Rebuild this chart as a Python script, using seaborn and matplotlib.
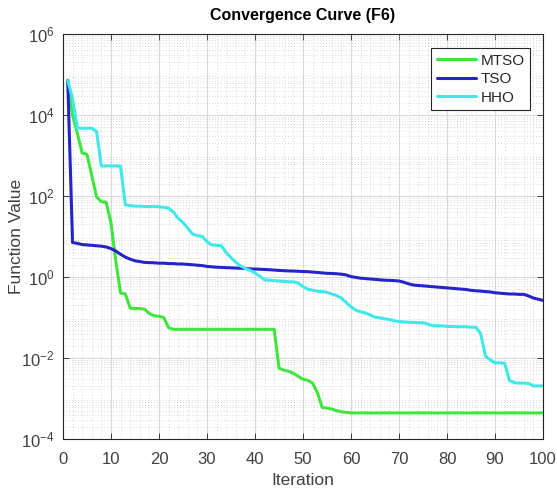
import numpy as np
import pandas as pd
import matplotlib
matplotlib.use("Agg")
import matplotlib.pyplot as plt
from matplotlib.ticker import LogLocator, FixedLocator, NullFormatter
import seaborn as sns

# Best fitness per iteration for each optimizer on benchmark F6
iterations = list(range(1, 101))

mtso = [6.6e4, 1.0e4, 3.5e3, 1.15e3, 1.07e3, 3.2e2, 95, 72, 70, 22,
        2.5, 0.40, 0.38, 0.17, 0.166, 0.166, 0.16, 0.125, 0.11, 0.107,
        0.10, 0.056, 0.051, 0.051, 0.051, 0.051, 0.051, 0.051, 0.051, 0.051,
        0.051, 0.051, 0.051, 0.051, 0.051, 0.051, 0.051, 0.051, 0.051, 0.051,
        0.051, 0.051, 0.051, 0.051, 5.6e-3, 5.0e-3, 4.7e-3, 4.2e-3, 3.5e-3, 3.0e-3,
        2.8e-3, 2.4e-3, 1.4e-3, 6.0e-4, 5.8e-4, 5.5e-4, 5.0e-4, 4.7e-4, 4.55e-4, 4.4e-4,
        4.4e-4, 4.4e-4, 4.4e-4, 4.4e-4, 4.4e-4, 4.4e-4, 4.4e-4, 4.4e-4, 4.4e-4, 4.4e-4,
        4.4e-4, 4.4e-4, 4.4e-4, 4.4e-4, 4.4e-4, 4.4e-4, 4.4e-4, 4.4e-4, 4.4e-4, 4.4e-4,
        4.4e-4, 4.4e-4, 4.4e-4, 4.4e-4, 4.4e-4, 4.4e-4, 4.4e-4, 4.4e-4, 4.4e-4, 4.4e-4,
        4.4e-4, 4.4e-4, 4.4e-4, 4.4e-4, 4.4e-4, 4.4e-4, 4.4e-4, 4.4e-4, 4.4e-4, 4.4e-4]

tso = [7.2e4, 7.08, 6.76, 6.31, 6.17, 6.03, 5.89, 5.75, 5.50, 5.01,
       4.37, 3.63, 3.09, 2.75, 2.51, 2.40, 2.29, 2.26, 2.24, 2.19,
       2.19, 2.14, 2.14, 2.09, 2.09, 2.04, 2.00, 1.95, 1.91, 1.82,
       1.78, 1.74, 1.72, 1.70, 1.68, 1.66, 1.64, 1.62, 1.58, 1.57,
       1.55, 1.53, 1.51, 1.48, 1.45, 1.43, 1.41, 1.40, 1.38, 1.36,
       1.35, 1.32, 1.29, 1.26, 1.23, 1.22, 1.20, 1.17, 1.12, 1.02,
       0.977, 0.933, 0.912, 0.891, 0.871, 0.851, 0.832, 0.822, 0.813, 0.794,
       0.741, 0.676, 0.631, 0.617, 0.603, 0.589, 0.575, 0.562, 0.550, 0.537,
       0.525, 0.513, 0.501, 0.490, 0.468, 0.457, 0.447, 0.437, 0.427, 0.407,
       0.398, 0.389, 0.380, 0.380, 0.372, 0.372, 0.339, 0.302, 0.282, 0.263]

hho = [7.1e4, 2.5e4, 4.7e3, 4.7e3, 4.7e3, 4.7e3, 3.9e3, 550, 550, 550,
       550, 540, 60, 58, 56, 56, 55, 55, 55, 54,
       52, 50, 40, 28, 22, 16, 11.5, 10.5, 10.0, 7.4,
       6.2, 6.0, 5.9, 4.0, 3.0, 2.3, 1.86, 1.62, 1.45, 1.26,
       1.05, 0.85, 0.83, 0.81, 0.79, 0.78, 0.76, 0.76, 0.71, 0.575,
       0.50, 0.47, 0.447, 0.437, 0.417, 0.38, 0.347, 0.30, 0.234, 0.182,
       0.151, 0.138, 0.129, 0.115, 0.102, 0.098, 0.093, 0.089, 0.083, 0.079,
       0.078, 0.076, 0.076, 0.074, 0.074, 0.068, 0.063, 0.062, 0.062, 0.060,
       0.060, 0.059, 0.059, 0.059, 0.0575, 0.0575, 0.040, 0.0112, 0.0089, 0.0076,
       0.0076, 0.0074, 0.0028, 0.00245, 0.0024, 0.0024, 0.00235, 0.00204, 0.00204, 0.00204]

algorithms = ["MTSO", "TSO", "HHO"]
palette = {"MTSO": "#3ee63e", "TSO": "#2424c8", "HHO": "#40e8e8"}

df = pd.concat(
    [pd.DataFrame({"Iteration": iterations, "Value": vals, "Algorithm": name})
     for name, vals in zip(algorithms, [mtso, tso, hho])],
    ignore_index=True,
)

sns.set_theme(style="white")
plt.rcParams["font.family"] = ["Liberation Sans", "DejaVu Sans"]

fig = plt.figure(figsize=(5.57, 4.92), dpi=100)
ax = fig.add_axes([0.113, 0.1077, 0.862, 0.8234])

sns.lineplot(data=df, x="Iteration", y="Value", hue="Algorithm",
             hue_order=algorithms, palette=palette, linewidth=2.2, ax=ax)

ax.set_yscale("log")
ax.set_xlim(0, 100)
ax.set_ylim(1e-4, 1e6)
ax.xaxis.set_major_locator(FixedLocator(np.arange(0, 101, 10)))
ax.xaxis.set_minor_locator(FixedLocator(np.arange(0, 101, 2)))
ax.yaxis.set_major_locator(LogLocator(base=10, subs=(1.0,), numticks=20))
ax.yaxis.set_minor_locator(LogLocator(base=10, subs=np.arange(2, 10), numticks=20))
ax.yaxis.set_minor_formatter(NullFormatter())
ax.set_yticks([1e-4, 1e-2, 1e0, 1e2, 1e4, 1e6])

ax.grid(True, which="major", color="#d9d9d9", linewidth=0.8, linestyle="-")
ax.grid(True, which="minor", color="#cccccc", linewidth=0.6, linestyle=(0, (1, 2.5)))
ax.set_axisbelow(True)

for side in ["left", "bottom", "top", "right"]:
    ax.spines[side].set_visible(True)
    ax.spines[side].set_color("#262626")
    ax.spines[side].set_linewidth(0.8)

ax.tick_params(which="major", direction="in", length=4, width=0.6,
               top=True, right=True, bottom=True, left=True,
               labelsize=12, labelcolor="#404040", color="#262626")
ax.tick_params(axis="x", which="major", pad=9)
ax.tick_params(axis="y", which="major", pad=6)
ax.tick_params(which="minor", length=0, top=False, right=False)

ax.set_xlabel("Iteration", fontsize=12.5, color="#404040", labelpad=5)
ax.set_ylabel("Function Value", fontsize=12.5, color="#404040")
ax.yaxis.set_label_coords(-0.082, 0.5)
ax.set_title("Convergence Curve (F6)", fontsize=11.5, fontweight="bold",
             color="black", pad=10)

leg = ax.legend(loc="upper right", bbox_to_anchor=(0.98, 0.972), frameon=True,
                fancybox=False, fontsize=11, handlelength=2.6, handletextpad=0.3,
                borderpad=0.35, labelspacing=0.3, borderaxespad=0.2)
leg.get_frame().set_edgecolor("#262626")
leg.get_frame().set_linewidth(0.8)
leg.get_frame().set_alpha(1.0)
for line in leg.get_lines():
    line.set_linewidth(2.2)

fig.savefig("out.png", dpi=100)
